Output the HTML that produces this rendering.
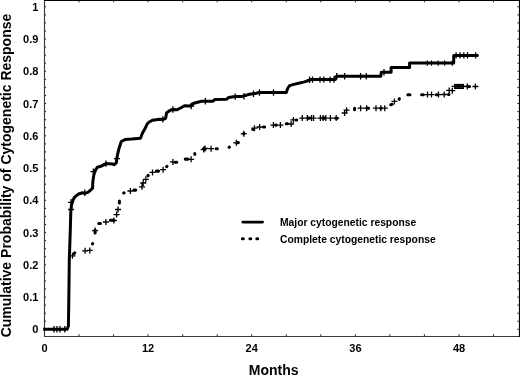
<!DOCTYPE html>
<html><head><meta charset="utf-8"><style>
html,body{margin:0;padding:0;background:#fff;}
body{width:520px;height:375px;overflow:hidden;position:relative;}
svg{position:absolute;left:0;top:0;filter:grayscale(1);}
text{font-family:"Liberation Sans",sans-serif;font-weight:bold;fill:#000;}
</style></head><body>
<svg width="520" height="375" viewBox="0 0 520 375">
<rect x="0" y="0" width="520" height="375" fill="#fff"/>
<path d="M44.5 0V336.5M44 336.5H519" stroke="#3a3a3a" stroke-width="1.15" fill="none"/>
<path d="M44 0.5H519.5M519.5 0V337" stroke="#000" stroke-width="1.2" fill="none"/>
<path d="M44.5 329.3h1.6M518.9 329.3h-1.6M44.5 321.2h1.6M518.9 321.2h-1.6M44.5 313.2h1.6M518.9 313.2h-1.6M44.5 305.1h1.6M518.9 305.1h-1.6M44.5 297.1h1.6M518.9 297.1h-1.6M44.5 289.0h1.6M518.9 289.0h-1.6M44.5 280.9h1.6M518.9 280.9h-1.6M44.5 272.9h1.6M518.9 272.9h-1.6M44.5 264.8h1.6M518.9 264.8h-1.6M44.5 256.7h1.6M518.9 256.7h-1.6M44.5 248.7h1.6M518.9 248.7h-1.6M44.5 240.6h1.6M518.9 240.6h-1.6M44.5 232.6h1.6M518.9 232.6h-1.6M44.5 224.5h1.6M518.9 224.5h-1.6M44.5 216.4h1.6M518.9 216.4h-1.6M44.5 208.4h1.6M518.9 208.4h-1.6M44.5 200.3h1.6M518.9 200.3h-1.6M44.5 192.2h1.6M518.9 192.2h-1.6M44.5 184.2h1.6M518.9 184.2h-1.6M44.5 176.1h1.6M518.9 176.1h-1.6M44.5 168.1h1.6M518.9 168.1h-1.6M44.5 160.0h1.6M518.9 160.0h-1.6M44.5 151.9h1.6M518.9 151.9h-1.6M44.5 143.9h1.6M518.9 143.9h-1.6M44.5 135.8h1.6M518.9 135.8h-1.6M44.5 127.7h1.6M518.9 127.7h-1.6M44.5 119.7h1.6M518.9 119.7h-1.6M44.5 111.6h1.6M518.9 111.6h-1.6M44.5 103.5h1.6M518.9 103.5h-1.6M44.5 95.5h1.6M518.9 95.5h-1.6M44.5 87.4h1.6M518.9 87.4h-1.6M44.5 79.4h1.6M518.9 79.4h-1.6M44.5 71.3h1.6M518.9 71.3h-1.6M44.5 63.2h1.6M518.9 63.2h-1.6M44.5 55.2h1.6M518.9 55.2h-1.6M44.5 47.1h1.6M518.9 47.1h-1.6M44.5 39.1h1.6M518.9 39.1h-1.6M44.5 31.0h1.6M518.9 31.0h-1.6M44.5 22.9h1.6M518.9 22.9h-1.6M44.5 14.9h1.6M518.9 14.9h-1.6M44.5 6.8h1.6M518.9 6.8h-1.6M79.0 336.5V334.3M79.0 0.5V2.3M113.6 336.5V334.3M113.6 0.5V2.3M148.1 336.5V334.3M148.1 0.5V2.3M182.7 336.5V334.3M182.7 0.5V2.3M217.2 336.5V334.3M217.2 0.5V2.3M251.7 336.5V334.3M251.7 0.5V2.3M286.3 336.5V334.3M286.3 0.5V2.3M320.8 336.5V334.3M320.8 0.5V2.3M355.4 336.5V334.3M355.4 0.5V2.3M389.9 336.5V334.3M389.9 0.5V2.3M424.4 336.5V334.3M424.4 0.5V2.3M459.0 336.5V334.3M459.0 0.5V2.3M493.5 336.5V334.3M493.5 0.5V2.3" stroke="#222" stroke-width="1" fill="none"/>
<path d="M74.09 253.63L74.71 252.87M92.52 243.88L92.68 243.52M95.10 229.95L95.10 233.05M98.75 223.50L100.45 223.50M110.35 220.30L113.95 220.30M119.40 201.05L119.40 202.95M123.74 193.07L124.06 192.83M133.95 190.10L135.75 190.10M147.92 175.76L148.28 175.44M156.35 171.10L158.55 171.10M166.64 166.68L166.96 166.32M175.05 162.30L176.75 162.30M185.25 159.10L187.95 159.10M194.80 153.55L194.80 154.35M216.15 148.70L217.35 148.70M229.17 147.35L229.43 147.05M237.15 142.60L238.35 142.60M243.64 133.88L243.96 133.52M252.83 129.51L253.17 129.29M263.45 126.90L264.65 126.90M275.55 125.10L276.35 125.10M286.25 123.70L287.55 123.70M296.05 119.90L296.75 119.90M308.25 118.10L309.55 118.10M322.75 118.10L324.75 118.10M335.85 118.20L337.15 118.20M354.60 108.25L354.60 109.75M367.05 108.20L368.55 108.20M380.80 108.20L381.20 108.20M390.79 104.80L392.01 104.40M399.16 99.40L399.34 98.80M407.85 94.70L409.95 94.70M421.65 94.70L423.35 94.70M436.25 94.70L436.95 94.70M448.55 94.50L448.95 94.50M468.95 86.50L469.55 86.50" fill="none" stroke="#000" stroke-width="3.05" stroke-linecap="round"/>
<rect x="454.1" y="83.9" width="9.8" height="5.1" fill="#333"/><path d="M451.5 86.4H468M454.1 84.6H463.9M454.1 88.4H463.9M454.8 83.9V89M458.7 83.9V89M463.2 83.9V89" stroke="#000" stroke-width="1.1" fill="none"/>
<path d="M69.5 255.8h6.0M72.5 252.8v6.0M82.1 250.8h6.0M85.1 247.8v6.0M86.8 250.4h6.0M89.8 247.4v6.0M92.1 230.6h6.0M95.1 227.6v6.0M102.9 222.0h6.0M105.9 219.0v6.0M110.8 220.5h6.0M113.8 217.5v6.0M113.6 214.6h6.0M116.6 211.6v6.0M115.0 209.5h6.0M118.0 206.5v6.0M127.4 191.0h6.0M130.4 188.0v6.0M139.0 186.8h6.0M142.0 183.8v6.0M140.2 183.0h6.0M143.2 180.0v6.0M142.8 179.3h6.0M145.8 176.3v6.0M149.5 172.4h6.0M152.5 169.4v6.0M160.1 169.7h6.0M163.1 166.7v6.0M169.9 161.9h6.0M172.9 158.9v6.0M188.1 159.3h6.0M191.1 156.3v6.0M200.7 149.6h6.0M203.7 146.6v6.0M202.0 148.4h6.0M205.0 145.4v6.0M208.1 148.7h6.0M211.1 145.7v6.0M233.3 142.8h6.0M236.3 139.8v6.0M240.8 133.7h6.0M243.8 130.7v6.0M251.5 128.2h6.0M254.5 125.2v6.0M256.6 127.0h6.0M259.6 124.0v6.0M270.4 125.1h6.0M273.4 122.1v6.0M277.4 125.1h6.0M280.4 122.1v6.0M288.1 124.0h6.0M291.1 121.0v6.0M290.4 119.9h6.0M293.4 116.9v6.0M299.3 118.1h6.0M302.3 115.1v6.0M304.3 118.1h6.0M307.3 115.1v6.0M308.5 118.1h6.0M311.5 115.1v6.0M310.5 118.1h6.0M313.5 115.1v6.0M317.4 118.1h6.0M320.4 115.1v6.0M320.1 118.1h6.0M323.1 115.1v6.0M322.8 118.1h6.0M325.8 115.1v6.0M327.4 118.1h6.0M330.4 115.1v6.0M333.2 118.1h6.0M336.2 115.1v6.0M341.6 113.0h6.0M344.6 110.0v6.0M343.6 110.2h6.0M346.6 107.2v6.0M357.6 108.2h6.0M360.6 105.2v6.0M363.6 108.2h6.0M366.6 105.2v6.0M373.0 108.2h6.0M376.0 105.2v6.0M377.8 108.2h6.0M380.8 105.2v6.0M381.8 108.2h6.0M384.8 105.2v6.0M391.4 101.4h6.0M394.4 98.4v6.0M424.5 94.6h6.0M427.5 91.6v6.0M428.5 94.6h6.0M431.5 91.6v6.0M435.5 94.6h6.0M438.5 91.6v6.0M441.2 94.5h6.0M444.2 91.5v6.0M446.2 90.4h6.0M449.2 87.4v6.0M449.3 90.7h6.0M452.3 87.7v6.0M464.3 86.5h6.0M467.3 83.5v6.0M472.4 86.5h6.0M475.4 83.5v6.0" stroke="#000" stroke-width="1.3" fill="none"/>
<polyline points="43.2,329.3 67.0,329.3 68.4,326.0 68.8,300.0 69.3,260.0 70.3,230.0 70.8,212.0 71.5,205.0 72.6,201.0 74.3,197.6 76.4,195.6 78.6,194.0 82.5,192.8 84.8,193.2 87.9,192.4 90.2,190.5 92.6,188.2 92.8,182.0 93.8,175.1 95.1,170.8 97.3,167.3 100.8,166.3 104.2,164.6 106.0,163.6 108.5,163.7 112.9,164.1 114.2,164.7 116.3,162.8 116.8,158.7 117.6,154.3 119.0,148.5 121.3,141.5 125.0,139.6 131.7,139.1 140.4,138.2 141.5,135.5 142.5,133.0 145.2,128.3 147.1,124.0 149.2,122.0 152.7,120.2 159.4,119.2 163.3,119.4 165.7,118.1 166.6,112.8 170.0,110.4 172.9,109.5 176.7,109.8 181.5,107.5 184.4,105.8 190.2,106.0 193.8,103.2 201.5,101.3 213.0,101.2 215.0,99.4 226.5,99.3 228.5,97.5 235.2,96.6 242.3,96.4 248.1,94.6 254.6,93.6 259.2,92.5 286.3,92.5 287.6,88.5 289.6,85.6 293.8,84.4 298.4,83.3 303.5,82.1 307.7,80.9 310.8,79.6 335.0,79.6 336.7,76.3 380.8,76.3 381.3,72.3 391.1,72.3 391.1,67.5 409.6,67.5 409.6,62.9 453.7,62.9 453.7,55.4 478.3,55.4" fill="none" stroke="#000" stroke-width="3" stroke-linejoin="round" stroke-linecap="butt"/>
<path d="M51.0 329.3h6.0M54.0 326.1v6.4M54.0 329.3h6.0M57.0 326.1v6.4M57.0 329.3h6.0M60.0 326.1v6.4M61.8 329.3h6.0M64.8 326.1v6.4M68.1 202.3h6.0M71.1 199.1v6.4M68.1 209.5h6.0M71.1 206.3v6.4M81.8 192.8h6.0M84.8 189.6v6.4M114.0 158.7h6.0M117.0 155.5v6.4M90.4 171.6h6.0M93.4 168.4v6.4M103.0 163.6h6.0M106.0 160.4v6.4M159.8 119.4h6.0M162.8 116.2v6.4M169.9 109.5h6.0M172.9 106.3v6.4M188.2 106.0h6.0M191.2 102.8v6.4M202.4 101.2h6.0M205.4 98.0v6.4M232.2 96.6h6.0M235.2 93.4v6.4M241.0 96.2h6.0M244.0 93.0v6.4M250.5 93.8h6.0M253.5 90.6v6.4M256.5 92.5h6.0M259.5 89.3v6.4M270.5 92.5h6.0M273.5 89.3v6.4M306.5 79.8h6.0M309.5 76.6v6.4M309.5 79.6h6.0M312.5 76.4v6.4M317.0 79.6h6.0M320.0 76.4v6.4M320.8 79.6h6.0M323.8 76.4v6.4M327.2 79.6h6.0M330.2 76.4v6.4M331.0 79.6h6.0M334.0 76.4v6.4M333.7 76.3h6.0M336.7 73.1v6.4M341.6 76.3h6.0M344.6 73.1v6.4M357.6 76.3h6.0M360.6 73.1v6.4M363.3 76.3h6.0M366.3 73.1v6.4M381.0 72.3h6.0M384.0 69.1v6.4M453.1 55.4h6.0M456.1 52.2v6.4M457.1 55.4h6.0M460.1 52.2v6.4M460.8 55.4h6.0M463.8 52.2v6.4M464.5 55.4h6.0M467.5 52.2v6.4M472.6 55.4h6.0M475.6 52.2v6.4" stroke="#000" stroke-width="1.3" fill="none"/>
<path d="M427.3 60.6v5.2M431.5 60.6v5.2M438.1 60.6v5.2M444.6 60.6v5.2M452.3 60.6v5.2" stroke="#000" stroke-width="1.2" fill="none"/>
<g font-size="11"><text x="38.4" y="333.2" text-anchor="end">0</text><text x="38.4" y="300.9" text-anchor="end">0.1</text><text x="38.4" y="268.7" text-anchor="end">0.2</text><text x="38.4" y="236.5" text-anchor="end">0.3</text><text x="38.4" y="204.2" text-anchor="end">0.4</text><text x="38.4" y="172.0" text-anchor="end">0.5</text><text x="38.4" y="139.7" text-anchor="end">0.6</text><text x="38.4" y="107.5" text-anchor="end">0.7</text><text x="38.4" y="75.2" text-anchor="end">0.8</text><text x="38.4" y="43.0" text-anchor="end">0.9</text><text x="38.4" y="10.7" text-anchor="end">1</text><text x="44.5" y="351.6" text-anchor="middle">0</text><text x="148.1" y="351.6" text-anchor="middle">12</text><text x="251.7" y="351.6" text-anchor="middle">24</text><text x="355.4" y="351.6" text-anchor="middle">36</text><text x="459.0" y="351.6" text-anchor="middle">48</text></g>
<text x="273.7" y="374.5" font-size="14" text-anchor="middle">Months</text>
<text transform="translate(10.9,175.5) rotate(-90)" font-size="14" text-anchor="middle">Cumulative Probability of Cytogenetic Response</text>
<path d="M242.8 222.1H262.6" stroke="#000" stroke-width="2.8" stroke-linecap="round"/>
<path d="M242.4 238.8H243.3M249.9 238.8H250.8M256.8 238.8H257.7" stroke="#000" stroke-width="3" stroke-linecap="round"/>
<g font-size="10.3"><text x="280" y="225.8">Major cytogenetic response</text><text x="280" y="242.6">Complete cytogenetic response</text></g>
</svg>
</body></html>
